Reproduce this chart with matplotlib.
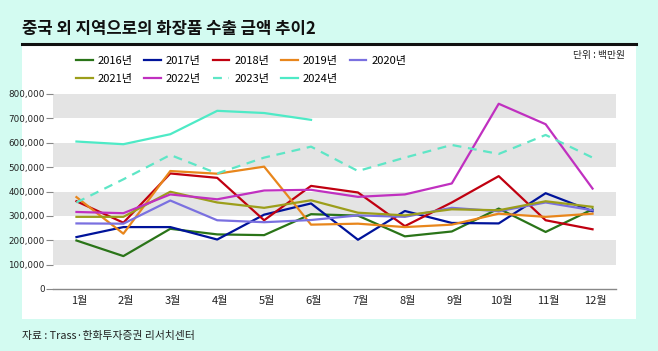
import numpy as np
import matplotlib
matplotlib.use('Agg')
import matplotlib.pyplot as plt
import matplotlib.patches as mpatches
from matplotlib.lines import Line2D

plt.rcParams['font.family'] = ['Noto Sans CJK KR', 'DejaVu Sans']

# 데이터 (단위: 백만원)
months = ['1월', '2월', '3월', '4월', '5월', '6월', '7월', '8월', '9월', '10월', '11월', '12월']
y2016 = [199000, 135000, 247000, 224000, 221000, 307000, 301000, 216000, 236000, 330000, 234000, 327000]
y2017 = [213000, 254000, 254000, 203000, 305000, 351000, 202000, 320000, 271000, 269000, 393000, 319000]
y2018 = [360000, 272000, 474000, 456000, 282000, 423000, 396000, 258000, 355000, 463000, 282000, 245000]
y2019 = [377000, 227000, 484000, 473000, 502000, 264000, 268000, 254000, 264000, 309000, 296000, 309000]
y2020 = [269000, 268000, 363000, 282000, 274000, 283000, 302000, 296000, 333000, 319000, 355000, 323000]
y2021 = [296000, 296000, 399000, 355000, 333000, 364000, 313000, 302000, 327000, 323000, 360000, 337000]
y2022 = [316000, 311000, 388000, 368000, 404000, 407000, 378000, 388000, 433000, 760000, 676000, 412000]
y2023 = [355000, 450000, 550000, 474000, 539000, 584000, 484000, 539000, 591000, 554000, 632000, 539000]
y2024 = [605000, 594000, 635000, 731000, 722000, 694000]

yticks = [0, 100000, 200000, 300000, 400000, 500000, 600000, 700000, 800000]

series = [
    ('2016년', y2016, '#2a7418', '-'),
    ('2017년', y2017, '#00139a', '-'),
    ('2018년', y2018, '#c00010', '-'),
    ('2019년', y2019, '#e8861c', '-'),
    ('2020년', y2020, '#7a70e0', '-'),
    ('2021년', y2021, '#9c9e1a', '-'),
    ('2022년', y2022, '#c030c0', '-'),
    ('2023년', y2023, '#5ee6c6', '--'),
    ('2024년', y2024, '#4eeac6', '-'),
]

bg = '#d3fbf1'
fig = plt.figure(figsize=(6.58, 3.51), dpi=100, facecolor=bg)

# 흰 패널
fig.add_artist(mpatches.Rectangle((22 / 658, 1 - 319 / 351), (636 - 22) / 658, (319 - 44) / 351,
                                  transform=fig.transFigure, facecolor='white', edgecolor='none', zorder=0))
fig.add_artist(Line2D([22 / 658, 636 / 658], [1 - 43.5 / 351] * 2, transform=fig.transFigure,
                      color='#111111', lw=2.2))
fig.text(22 / 658, 1 - 29 / 351, '중국 외 지역으로의 화장품 수출 금액 추이2', fontsize=12,
         fontweight='bold', va='center', ha='left', color='#111111')
fig.text(625 / 658, 1 - 55 / 351, '단위 : 백만원', fontsize=7, va='center', ha='right', color='#222222')
fig.text(22 / 658, 1 - 336 / 351, '자료 : Trass·한화투자증권 리서치센터', fontsize=7.8, va='center',
         ha='left', color='#222222')

ax = fig.add_axes([53 / 658, 1 - 289 / 351, (616 - 53) / 658, (289 - 94) / 351])
ax.set_facecolor('white')
ax.patch.set_alpha(0)

x = np.arange(len(months))
for k in range(1, 8, 2):
    ax.axhspan(yticks[k], yticks[k + 1], color='#e4e4e4', lw=0, zorder=0)

handles = {}
for name, vals, col, ls in series:
    h, = ax.plot(x[:len(vals)], vals, color=col, lw=1.6, ls=ls, label=name, zorder=3,
                 dashes=(4, 3) if ls == '--' else (None, None))
    handles[name] = h

ax.set_xlim(-0.5, 11.5)
ax.set_ylim(0, 800000)
ax.set_yticks(yticks)
ax.set_yticklabels([f'{v:,}' for v in yticks], fontsize=6.3, color='#222222',
                   family=['Liberation Sans Narrow', 'DejaVu Sans'])
ax.set_xticks(x + 0.06)
ax.set_xticklabels(months, fontsize=8, color='#222222')
ax.tick_params(axis='y', length=5, color='#888888', pad=1)
ax.tick_params(axis='x', length=0, pad=5)
for s in ['top', 'right', 'left']:
    ax.spines[s].set_visible(False)
ax.spines['bottom'].set_color('#888888')
ax.spines['bottom'].set_linewidth(1)

order = ['2016년', '2021년', '2017년', '2022년', '2018년', '2023년', '2019년', '2024년', '2020년']
leg = fig.legend([handles[n] for n in order], order, ncol=5, loc='upper left',
                 bbox_to_anchor=(76 / 658, 1 - 56 / 351), frameon=False, fontsize=8,
                 handlelength=1.5, handletextpad=0.45, columnspacing=1.05, labelspacing=0.75,
                 borderaxespad=0, borderpad=0)

fig.savefig('out.png', dpi=100, facecolor=bg)
